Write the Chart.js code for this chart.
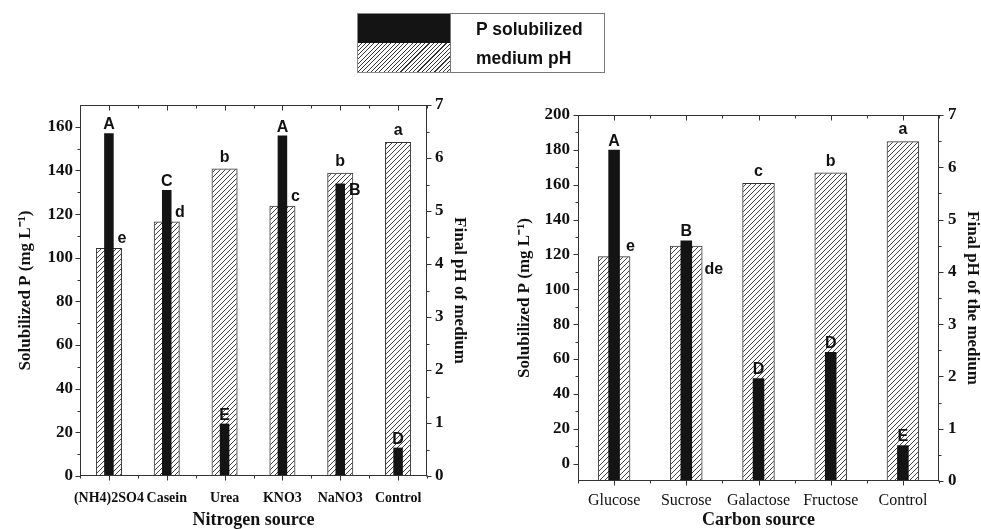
<!DOCTYPE html>
<html>
<head>
<meta charset="utf-8">
<script src="https://cdn.jsdelivr.net/npm/chart.js@4.4.0/dist/chart.umd.min.js"></script>
<style>
  body { margin: 0; background: #fff; }
  #wrap { position: relative; width: 981px; height: 529px; overflow: hidden; }
  #c1 { position: absolute; left: 0; top: 0; }
  #c2 { position: absolute; left: 490px; top: 0; }
  #legend {
    position: absolute; left: 357px; top: 13px; width: 248px; height: 60px;
    display: grid; grid-template-columns: 93px 155px; grid-template-rows: 30px 30px;
    font-family: "Liberation Sans", Arial, sans-serif; font-weight: bold; font-size: 17.5px; color: #111;
  }
  #legend .sw { box-sizing: border-box; border-left: 1px solid #888; }
  #legend .black { background: #141414; border-top: 1px solid #888; }
  #legend .hatch {
    background: repeating-linear-gradient(135deg, #fff 0px, #fff 2.2px, #333 2.2px, #333 3px);
    border-bottom: 1px solid #888;
  }
  #legend .txt { box-sizing: border-box; padding-left: 25px; line-height: 30px; border-right: 1px solid #777; border-left: 1px solid #777; }
  #legend .t1 { border-top: 1px solid #777; }
  #legend .t2 { border-bottom: 1px solid #777; }
</style>
</head>
<body>
<div id="wrap">
  <canvas id="c1" width="490" height="529"></canvas>
  <canvas id="c2" width="491" height="529"></canvas>
  <div id="legend">
    <div class="sw black"></div><div class="txt t1">P solubilized</div>
    <div class="sw hatch"></div><div class="txt t2">medium pH</div>
  </div>
</div>
<script>
// nitrogen source panel
var nitrogenSources = ['(NH4)2SO4', 'Casein', 'Urea', 'KNO3', 'NaNO3', 'Control'];
var nitrogenP = [157, 131, 24, 156, 134, 13];
var nitrogenPH = [4.3, 4.8, 5.8, 5.1, 5.72, 6.3];
var nitrogenPLetters = ['A', 'C', 'E', 'A', 'B', 'D'];
var nitrogenPHLetters = ['e', 'd', 'b', 'c', 'b', 'a'];
var nitrogenPTicks = [0, 20, 40, 60, 80, 100, 120, 140, 160];

// carbon source panel
var carbonSources = ['Glucose', 'Sucrose', 'Galactose', 'Fructose', 'Control'];
var carbonP = [180, 128, 49, 64, 10.5];
var carbonPH = [4.3, 4.5, 5.7, 5.9, 6.5];
var carbonPLetters = ['A', 'B', 'D', 'D', 'E'];
var carbonPHLetters = ['e', 'de', 'c', 'b', 'a'];
var carbonPTicks = [0, 20, 40, 60, 80, 100, 120, 140, 160, 180, 200];

var phTicks = [0, 1, 2, 3, 4, 5, 6, 7];

// where each letter sits relative to its bar
var nitrogenPLetterPos = ['top', 'top', 'top', 'top', 'right', 'top'];
var nitrogenPHLetterPos = ['edge', 'edge', 'top', 'edge', 'top', 'top'];
var carbonPLetterPos = ['top', 'top', 'top', 'top', 'top'];
var carbonPHLetterPos = ['edge', 'below', 'top', 'top', 'top'];

var SERIF = '"Liberation Serif", "Times New Roman", serif';
var SANS = '"Liberation Sans", Arial, sans-serif';
var INK = '#111';

function hatch(ctx) {
  var c = document.createElement('canvas');
  c.width = 5; c.height = 5;
  var g = c.getContext('2d');
  g.strokeStyle = '#2a2a2a';
  g.lineWidth = 0.9;
  g.beginPath();
  g.moveTo(0, 5); g.lineTo(5, 0);
  g.moveTo(-1, 1); g.lineTo(1, -1);
  g.moveTo(4, 6); g.lineTo(6, 4);
  g.stroke();
  return ctx.createPattern(c, 'repeat');
}

function line(ctx, x1, y1, x2, y2) {
  ctx.beginPath();
  ctx.moveTo(x1, y1);
  ctx.lineTo(x2, y2);
  ctx.stroke();
}

function yTickMarks(ctx, scale, x, dir) {
  var vals = scale.ticks.map(function(t) { return t.value; });
  var step = vals[1] - vals[0];
  vals.forEach(function(v) {
    var y = Math.round(scale.getPixelForValue(v)) + 0.5;
    line(ctx, x, y, x + dir * 5, y);
  });
  for (var v = vals[0] - step / 2; v <= scale.max; v += step) {
    if (v <= scale.min || v >= scale.max) continue;
    var y = Math.round(scale.getPixelForValue(v)) + 0.5;
    line(ctx, x, y, x + dir * 3, y);
  }
}

var framePlugin = {
  id: 'frame',
  afterDatasetsDraw: function(chart) {
    var ctx = chart.ctx, a = chart.chartArea;
    var L = Math.round(a.left) + 0.5, R = Math.round(a.right) - 0.5;
    var T = Math.round(a.top) + 0.5, B = Math.round(a.bottom) - 0.5;
    ctx.save();
    ctx.strokeStyle = '#333';
    ctx.lineWidth = 1;
    ctx.strokeRect(L, T, R - L, B - T);

    yTickMarks(ctx, chart.scales.y, L, -1);
    yTickMarks(ctx, chart.scales.y1, R, 1);

    var xs = chart.scales.x;
    var n = chart.data.labels.length;
    var w = (a.right - a.left) / n;
    for (var i = 0; i < n; i++) {
      var cx = Math.round(xs.getPixelForValue(i)) + 0.5;
      line(ctx, cx, B, cx, B + 5);
      line(ctx, cx, T, cx, T + 5);
    }
    for (var k = 0; k <= n; k++) {
      var bx = Math.round(a.left + w * k) + 0.5;
      line(ctx, bx, B, bx, B + 3);
      line(ctx, bx, T, bx, T + 3);
    }

    // significance letters
    ctx.fillStyle = INK;
    ctx.font = 'bold 16px ' + SANS;
    chart.data.datasets.forEach(function(ds, di) {
      var meta = chart.getDatasetMeta(di);
      var gap = ds.yAxisID === 'y1' ? 7 : 4;
      meta.data.forEach(function(bar, j) {
        var txt = ds.letters[j], pos = ds.letterPos[j];
        var half = bar.width / 2;
        if (pos === 'top') {
          ctx.textAlign = 'center'; ctx.textBaseline = 'alphabetic';
          ctx.fillText(txt, bar.x, bar.y - gap);
        } else if (pos === 'edge') {
          ctx.textAlign = 'center'; ctx.textBaseline = 'alphabetic';
          ctx.fillText(txt, bar.x + half, bar.y - 5);
        } else if (pos === 'right') {
          ctx.textAlign = 'left'; ctx.textBaseline = 'top';
          ctx.fillText(txt, bar.x + half + 4, bar.y - 1);
        } else {
          ctx.textAlign = 'left'; ctx.textBaseline = 'top';
          ctx.fillText(txt, bar.x + half + 2, bar.y + 16);
        }
      });
    });
    ctx.restore();
  }
};

function makeChart(id, o) {
  var ctx = document.getElementById(id).getContext('2d');
  return new Chart(ctx, {
    type: 'bar',
    data: {
      labels: o.labels,
      datasets: [
        {
          label: 'P solubilized',
          data: o.p,
          yAxisID: 'y',
          base: o.pMin,
          order: 1,
          grouped: false,
          backgroundColor: '#141414',
          borderWidth: 0,
          barPercentage: o.blackWidth,
          categoryPercentage: 1,
          letters: o.pLetters,
          letterPos: o.pLetterPos
        },
        {
          label: 'medium pH',
          data: o.ph,
          yAxisID: 'y1',
          order: 2,
          grouped: false,
          backgroundColor: hatch(ctx),
          borderColor: '#333',
          borderWidth: 1,
          barPercentage: 0.45,
          categoryPercentage: 1,
          letters: o.phLetters,
          letterPos: o.phLetterPos
        }
      ]
    },
    options: {
      responsive: false,
      animation: false,
      devicePixelRatio: 1,
      layout: { padding: o.padding },
      plugins: { legend: { display: false }, tooltip: { enabled: false } },
      scales: {
        x: {
          type: 'category',
          offset: true,
          grid: { display: false, drawTicks: false, tickLength: 0 },
          border: { display: false },
          ticks: {
            autoSkip: false, maxRotation: 0, minRotation: 0,
            padding: o.xPad, color: INK,
            font: { family: SERIF, size: o.xFontSize, weight: o.xWeight }
          },
          title: {
            display: true, text: o.xTitle, padding: 0, color: INK,
            font: { family: SERIF, size: 18, weight: 'bold', lineHeight: 1 }
          },
          afterFit: function(s) { s.height = o.xHeight; }
        },
        y: {
          position: 'left',
          min: o.pMin, max: o.pMax,
          grid: { display: false, drawTicks: false, tickLength: 0 },
          border: { display: false },
          afterBuildTicks: function(s) { s.ticks = o.pTicks.map(function(v) { return { value: v }; }); },
          ticks: { padding: o.yPad, color: INK, font: { family: SERIF, size: 17, weight: 'bold' } },
          title: {
            display: true, text: 'Solubilized P (mg L\u207B\u00B9)', padding: 0, color: INK,
            font: { family: SERIF, size: 17, weight: 'bold', lineHeight: 1 }
          },
          afterFit: function(s) { s.width = o.yWidth; }
        },
        y1: {
          position: 'right',
          min: 0, max: 7,
          grid: { display: false, drawTicks: false, tickLength: 0 },
          border: { display: false },
          afterBuildTicks: function(s) { s.ticks = phTicks.map(function(v) { return { value: v }; }); },
          ticks: { padding: o.y1Pad, color: INK, font: { family: SERIF, size: 17, weight: 'bold' } },
          title: {
            display: true, text: o.y1Title, padding: 0, color: INK,
            font: { family: SERIF, size: 17, weight: 'bold', lineHeight: 1 }
          },
          afterFit: function(s) { s.width = o.y1Width; }
        }
      }
    },
    plugins: [framePlugin]
  });
}

makeChart('c1', {
  labels: nitrogenSources,
  p: nitrogenP, ph: nitrogenPH,
  pLetters: nitrogenPLetters, phLetters: nitrogenPHLetters,
  pLetterPos: nitrogenPLetterPos, phLetterPos: nitrogenPHLetterPos,
  pTicks: nitrogenPTicks, pMin: 0, pMax: 170,
  blackWidth: 0.165,
  padding: { left: 17, right: 22, top: 105, bottom: 0 },
  xHeight: 53, yWidth: 63, y1Width: 41,
  xPad: 14, yPad: 7, y1Pad: 8,
  xFontSize: 14, xWeight: 'bold',
  xTitle: 'Nitrogen source',
  y1Title: 'Final pH of medium'
});

makeChart('c2', {
  labels: carbonSources,
  p: carbonP, ph: carbonPH,
  pLetters: carbonPLetters, phLetters: carbonPHLetters,
  pLetterPos: carbonPLetterPos, phLetterPos: carbonPHLetterPos,
  pTicks: carbonPTicks, pMin: -10, pMax: 200,
  blackWidth: 0.16,
  padding: { left: 26, right: 0, top: 115, bottom: 0 },
  xHeight: 48, yWidth: 62, y1Width: 42,
  xPad: 10, yPad: 8, y1Pad: 9,
  xFontSize: 16, xWeight: 'normal',
  xTitle: 'Carbon source',
  y1Title: 'Final pH of the medium'
});
</script>
</body>
</html>
